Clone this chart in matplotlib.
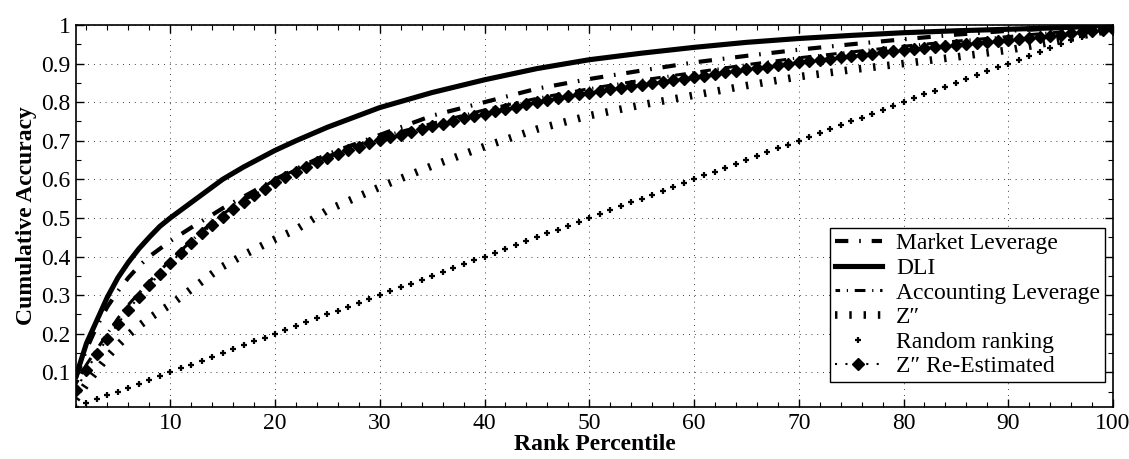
import matplotlib
matplotlib.use("Agg")
import matplotlib.pyplot as plt
from matplotlib.ticker import MultipleLocator, FuncFormatter

plt.rcParams['font.family'] = ['Liberation Serif', 'DejaVu Serif']

# curves (rank percentile -> cumulative accuracy)
x_line = [1, 2, 3, 4, 5, 6, 7, 8, 9, 10, 12, 14, 15, 17, 20, 22, 25, 30, 35, 40,
          45, 50, 55, 60, 65, 70, 75, 80, 85, 90, 95, 100]
dli = [0.09, 0.175, 0.235, 0.295, 0.345, 0.385, 0.42, 0.45, 0.478, 0.50, 0.54, 0.58,
       0.60, 0.632, 0.675, 0.70, 0.735, 0.786, 0.825, 0.858, 0.887, 0.91, 0.927, 0.942,
       0.955, 0.965, 0.973, 0.98, 0.985, 0.989, 0.993, 1.0]
market_lev = [0.085, 0.16, 0.22, 0.27, 0.31, 0.345, 0.375, 0.40, 0.42, 0.44, 0.475, 0.508,
              0.525, 0.555, 0.60, 0.627, 0.665, 0.715, 0.765, 0.80, 0.835, 0.86, 0.882,
              0.903, 0.92, 0.936, 0.95, 0.963, 0.975, 0.985, 0.992, 1.0]
account_lev = [0.07, 0.12, 0.16, 0.20, 0.24, 0.275, 0.305, 0.335, 0.363, 0.39, 0.44, 0.49,
               0.51, 0.545, 0.60, 0.625, 0.66, 0.71, 0.745, 0.78, 0.81, 0.835, 0.857,
               0.877, 0.897, 0.915, 0.93, 0.945, 0.958, 0.97, 0.982, 1.0]
z_score = [0.03, 0.07, 0.105, 0.14, 0.17, 0.197, 0.22, 0.24, 0.258, 0.275, 0.315, 0.355,
           0.374, 0.404, 0.445, 0.47, 0.52, 0.58, 0.635, 0.685, 0.73, 0.765, 0.793,
           0.818, 0.843, 0.866, 0.884, 0.90, 0.917, 0.935, 0.96, 0.99]

x_pct = list(range(1, 101))
random_rank = [0.01, 0.02, 0.03, 0.04, 0.05, 0.06, 0.07, 0.08, 0.09, 0.10,
               0.11, 0.12, 0.13, 0.14, 0.15, 0.16, 0.17, 0.18, 0.19, 0.20,
               0.21, 0.22, 0.23, 0.24, 0.25, 0.26, 0.27, 0.28, 0.29, 0.30,
               0.31, 0.32, 0.33, 0.34, 0.35, 0.36, 0.37, 0.38, 0.39, 0.40,
               0.41, 0.42, 0.43, 0.44, 0.45, 0.46, 0.47, 0.48, 0.49, 0.50,
               0.51, 0.52, 0.53, 0.54, 0.55, 0.56, 0.57, 0.58, 0.59, 0.60,
               0.61, 0.62, 0.63, 0.64, 0.65, 0.66, 0.67, 0.68, 0.69, 0.70,
               0.71, 0.72, 0.73, 0.74, 0.75, 0.76, 0.77, 0.78, 0.79, 0.80,
               0.81, 0.82, 0.83, 0.84, 0.85, 0.86, 0.87, 0.88, 0.89, 0.90,
               0.91, 0.92, 0.93, 0.94, 0.95, 0.96, 0.97, 0.98, 0.99, 1.00]
z_reest = [0.053, 0.105, 0.148, 0.187, 0.226, 0.262, 0.295, 0.326, 0.355, 0.383,
           0.410, 0.436, 0.460, 0.482, 0.503, 0.523, 0.542, 0.560, 0.576, 0.592,
           0.606, 0.619, 0.632, 0.644, 0.655, 0.665, 0.675, 0.684, 0.693, 0.701,
           0.709, 0.716, 0.723, 0.730, 0.737, 0.744, 0.751, 0.758, 0.764, 0.770,
           0.776, 0.782, 0.788, 0.794, 0.800, 0.805, 0.810, 0.815, 0.820, 0.825,
           0.829, 0.833, 0.837, 0.841, 0.845, 0.849, 0.853, 0.857, 0.861, 0.865,
           0.869, 0.873, 0.877, 0.881, 0.885, 0.889, 0.892, 0.896, 0.899, 0.903,
           0.906, 0.910, 0.913, 0.916, 0.920, 0.923, 0.926, 0.929, 0.932, 0.935,
           0.938, 0.940, 0.943, 0.945, 0.948, 0.950, 0.953, 0.955, 0.958, 0.960,
           0.963, 0.966, 0.969, 0.972, 0.975, 0.978, 0.981, 0.984, 0.987, 0.990]

fig = plt.figure(figsize=(11.29, 4.59), dpi=100)
ax = fig.add_axes([76 / 1129, 1 - 407 / 459, (1113 - 76) / 1129, (407 - 25) / 459])

ax.plot(x_line, market_lev, color='black', lw=3, linestyle=(0, (3.2, 2.6, 0.4, 2.6)),
        dash_capstyle='butt', label='Market Leverage')
ax.plot(x_line, dli, color='black', lw=3.7, label='DLI')
ax.plot(x_line, account_lev, color='black', lw=2.2, linestyle=(2.0, (3.5, 2.2, 0.4, 2.2)),
        dash_capstyle='butt', label='Accounting Leverage')
ax.plot(x_line, z_score, color='black', lw=5.5, linestyle=(0, (0.32, 1.55)),
        dash_capstyle='butt', label='Z\u2033')
ax.plot(x_pct, random_rank, color='black', linestyle='none', marker='+',
        markersize=5, markeredgewidth=1.6, label='Random ranking')
ax.plot(x_pct, z_reest, color='black', lw=1.5, linestyle=(0, (1, 4)), marker='D',
        markersize=6.5, label='Z\u2033 Re-Estimated')

ax.set_xlim(1, 100)
ax.set_ylim(0.01, 1)
ax.set_xticks(range(10, 101, 10))
ax.set_yticks([0.1, 0.2, 0.3, 0.4, 0.5, 0.6, 0.7, 0.8, 0.9, 1.0])
ax.xaxis.set_minor_locator(MultipleLocator(2))
ax.yaxis.set_minor_locator(MultipleLocator(0.05))
ax.yaxis.set_major_formatter(FuncFormatter(lambda v, p: '1' if v >= 0.999 else f'{v:.1f}'))
ax.tick_params(which='both', direction='in', top=True, right=True, labelsize=17)
ax.tick_params(which='major', length=6, width=1, pad=4)
ax.tick_params(which='minor', length=3.5, width=0.8)
ax.grid(True, which='major', color='black', lw=0.6, linestyle=(0, (1, 6)))
for s in ax.spines.values():
    s.set_linewidth(1.2)

ax.set_xlabel('Rank Percentile', fontsize=17, fontweight='bold', labelpad=0)
ax.set_ylabel('Cumulative Accuracy', fontsize=17, fontweight='bold', labelpad=3)

leg = ax.legend(loc='lower right', bbox_to_anchor=(0.992, 0.065), borderaxespad=0,
                fontsize=17, fancybox=False, framealpha=1, edgecolor='black',
                labelspacing=0.13, handlelength=2.0, borderpad=0.2, handletextpad=0.6)
leg.get_frame().set_linewidth(1.0)

fig.savefig('out.png', dpi=100)
